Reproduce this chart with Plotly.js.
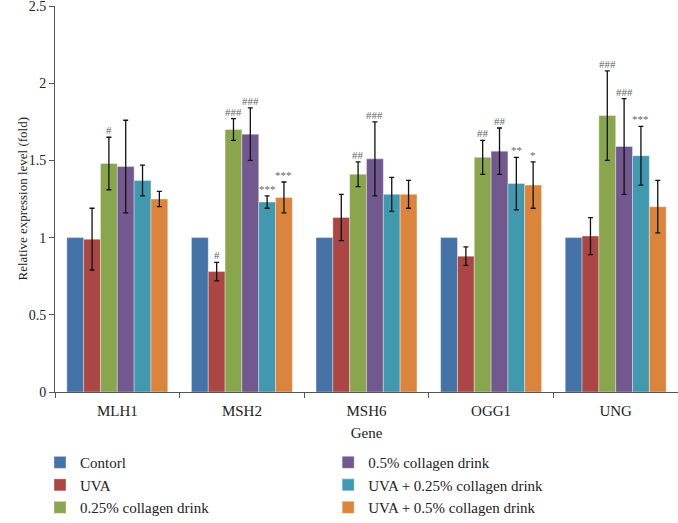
<!DOCTYPE html>
<html>
<head>
<meta charset="utf-8">
<script src="https://cdn.plot.ly/plotly-3.0.1.min.js"></script>
<style>
  html, body { margin: 0; padding: 0; background: #fff; }
  #chart { width: 678px; height: 523px; }
</style>
</head>
<body>
<div id="chart"></div>
<script>
let genes = ["MLH1", "MSH2", "MSH6", "OGG1", "UNG"];

let groupNames = ["Contorl", "UVA", "0.25% collagen drink", "0.5% collagen drink",
  "UVA + 0.25% collagen drink", "UVA + 0.5% collagen drink"];
let groupColors = ["#4572a7", "#aa4643", "#89a54e", "#71588f", "#4198af", "#db843d"];

// mean fold change, per group, in gene order
let control = [1.00, 1.00, 1.00, 1.00, 1.00];
let uva = [0.99, 0.78, 1.13, 0.88, 1.01];
let collagen025 = [1.48, 1.70, 1.41, 1.52, 1.79];
let collagen05 = [1.46, 1.67, 1.51, 1.56, 1.59];
let uvaCollagen025 = [1.37, 1.23, 1.28, 1.35, 1.53];
let uvaCollagen05 = [1.25, 1.26, 1.28, 1.34, 1.20];

// error bars (+/-)
let controlErr = [0, 0, 0, 0, 0];
let uvaErr = [0.20, 0.06, 0.15, 0.06, 0.12];
let collagen025Err = [0.17, 0.07, 0.08, 0.11, 0.29];
let collagen05Err = [0.30, 0.17, 0.24, 0.15, 0.31];
let uvaCollagen025Err = [0.10, 0.04, 0.11, 0.17, 0.19];
let uvaCollagen05Err = [0.05, 0.10, 0.09, 0.15, 0.17];

// significance marks
let controlSig = ["", "", "", "", ""];
let uvaSig = ["", "#", "", "", ""];
let collagen025Sig = ["#", "###", "##", "##", "###"];
let collagen05Sig = ["", "###", "###", "##", "###"];
let uvaCollagen025Sig = ["", "***", "", "**", "***"];
let uvaCollagen05Sig = ["", "***", "", "*", ""];

let values = [control, uva, collagen025, collagen05, uvaCollagen025, uvaCollagen05];
let errors = [controlErr, uvaErr, collagen025Err, collagen05Err, uvaCollagen025Err, uvaCollagen05Err];
let marks = [controlSig, uvaSig, collagen025Sig, collagen05Sig, uvaCollagen025Sig, uvaCollagen05Sig];

let barGap = 0.19;
let serifFont = "Liberation Serif, DejaVu Serif, serif";
let textColor = "#222";

let barData = [];
let annotations = [];
let barWidth = (1 - barGap) / groupNames.length;

groupNames.forEach(function(name, i) {
  let hasErr = errors[i].some(function(e) { return e > 0; });
  barData.push({
    type: "bar",
    name: name,
    x: genes,
    y: values[i],
    legend: i < 3 ? "legend" : "legend2",
    marker: {
      color: groupColors[i],
      line: { color: "rgba(255,255,255,0.6)", width: 0.6 }
    },
    error_y: {
      type: "data",
      array: errors[i],
      visible: hasErr,
      color: "#111",
      thickness: 1.3,
      width: 2.5
    }
  });

  marks[i].forEach(function(txt, g) {
    if (!txt) return;
    let xPos = g - (1 - barGap) / 2 + barWidth * (i + 0.5);
    annotations.push({
      x: xPos,
      y: values[i][g] + errors[i][g],
      xref: "x",
      yref: "y",
      text: txt,
      showarrow: false,
      yanchor: "bottom",
      yshift: -1,
      font: { family: serifFont, size: 11, color: "#666" }
    });
  });
});

// y-axis title drawn as annotation (margins are fixed)
annotations.push({
  x: 0,
  y: 0.5,
  xref: "paper",
  yref: "paper",
  xshift: -43,
  text: "Relative expression level (fold)",
  textangle: -90,
  showarrow: false,
  font: { family: serifFont, size: 13, color: textColor }
});

let layout = {
  width: 678,
  height: 523,
  paper_bgcolor: "#fff",
  plot_bgcolor: "#fff",
  font: { family: serifFont, color: textColor, size: 14 },
  barmode: "group",
  bargap: barGap,
  bargroupgap: 0,
  showlegend: true,
  margin: { l: 55, r: 0, t: 6, b: 131, autoexpand: false },
  xaxis: {
    showline: true,
    linecolor: "#555",
    linewidth: 1,
    ticks: "outside",
    tickson: "boundaries",
    ticklen: 5,
    tickcolor: "#555",
    ticklabelstandoff: 5,
    tickfont: { size: 15, color: textColor },
    title: { text: "Gene", font: { size: 15, color: textColor }, standoff: 9 },
    showgrid: false,
    zeroline: false
  },
  yaxis: {
    range: [0, 2.5],
    dtick: 0.5,
    showline: true,
    linecolor: "#555",
    linewidth: 1,
    ticks: "outside",
    ticklen: 5,
    tickcolor: "#555",
    ticklabeloverflow: "allow",
    tickfont: { size: 14, color: textColor },
    showgrid: false,
    zeroline: false
  },
  legend: {
    x: 0.059,
    xref: "container",
    xanchor: "left",
    y: 0.147,
    yref: "container",
    yanchor: "top",
    orientation: "v",
    font: { size: 15, color: textColor },
    bgcolor: "rgba(0,0,0,0)"
  },
  legend2: {
    x: 0.484,
    xref: "container",
    xanchor: "left",
    y: 0.147,
    yref: "container",
    yanchor: "top",
    orientation: "v",
    font: { size: 15, color: textColor },
    bgcolor: "rgba(0,0,0,0)"
  },
  annotations: annotations
};

Plotly.newPlot("chart", barData, layout, { displayModeBar: false, staticPlot: true });
</script>
</body>
</html>
